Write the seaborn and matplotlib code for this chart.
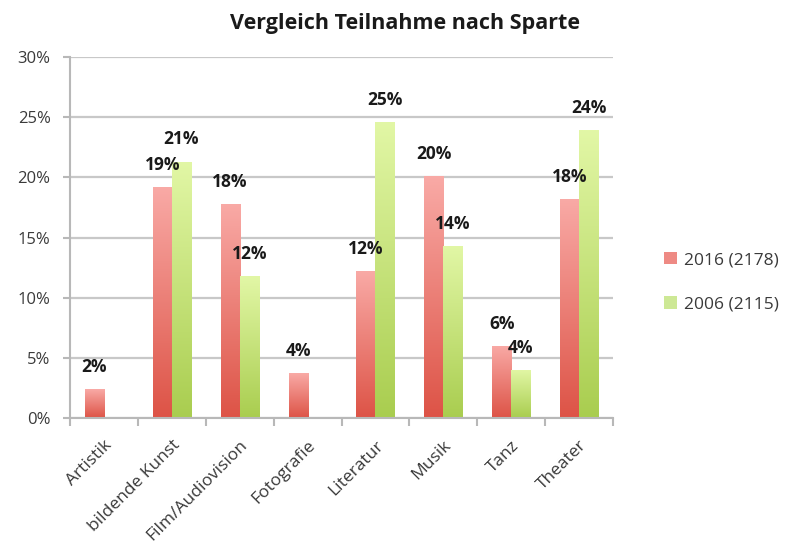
import numpy as np
import pandas as pd
import matplotlib
matplotlib.use("Agg")
import matplotlib.pyplot as plt
import seaborn as sns
from matplotlib.colors import LinearSegmentedColormap
from matplotlib.patches import Patch

categories = ["Artistik", "bildende Kunst", "Film/Audiovision", "Fotografie",
              "Literatur", "Musik", "Tanz", "Theater"]
series = ["2016 (2178)", "2006 (2115)"]
values_2016 = [2.4, 19.2, 17.8, 3.7, 12.2, 20.1, 6.0, 18.2]
values_2006 = [0.0, 21.3, 11.8, 0.0, 24.6, 14.3, 4.0, 23.9]
labels_2016 = ["2%", "19%", "18%", "4%", "12%", "20%", "6%", "18%"]
labels_2006 = ["", "21%", "12%", "", "25%", "14%", "4%", "24%"]
y_ticks = [0, 5, 10, 15, 20, 25, 30]
y_ticklabels = ["0%", "5%", "10%", "15%", "20%", "25%", "30%"]

df = pd.DataFrame({
    "Sparte": categories * 2,
    "Jahr": [series[0]] * len(categories) + [series[1]] * len(categories),
    "Wert": values_2016 + values_2006,
})

sns.set_theme(style="white")
plt.rcParams["font.family"] = ["Open Sans", "DejaVu Sans"]

fig = plt.figure(figsize=(7.86, 5.59), dpi=100)
ax = fig.add_axes([70 / 786, 1 - 418 / 559, (613 - 70) / 786, (418 - 57) / 559])

palette = {series[0]: "#e8716a", series[1]: "#c6e27e"}
sns.barplot(data=df, x="Sparte", y="Wert", hue="Jahr", order=categories,
            hue_order=series, palette=palette, width=0.56, ax=ax,
            legend=False, saturation=1, edgecolor="none")

cmaps = {
    series[0]: LinearSegmentedColormap.from_list("r", ["#dd5346", "#f9aaa6"]),
    series[1]: LinearSegmentedColormap.from_list("g", ["#a9cd4f", "#e2f7a6"]),
}
grad = np.linspace(0, 1, 256).reshape(-1, 1)
for cont, s in zip(ax.containers, series):
    for bar in cont:
        h = bar.get_height()
        if h <= 0:
            continue
        x0 = bar.get_x()
        w = bar.get_width()
        im = ax.imshow(grad, cmap=cmaps[s], aspect="auto", origin="lower",
                       extent=[x0, x0 + w, 0, h], zorder=bar.get_zorder() + 0.1)
        im.set_clip_path(bar)

for cont, labs in zip(ax.containers, [labels_2016, labels_2006]):
    for bar, lab in zip(cont, labs):
        if not lab:
            continue
        ax.annotate(lab, (bar.get_x() + bar.get_width() / 2, bar.get_height()),
                    xytext=(0, 16), textcoords="offset points", ha="center",
                    va="center", fontsize=12.5, fontweight="bold", color="#1a1a1a",
                    zorder=10)

ax.set_xlim(-0.5, len(categories) - 0.5)
ax.set_ylim(0, 30)
ax.set_yticks(y_ticks)
ax.set_yticklabels(y_ticklabels, fontsize=12, color="#3a3a3a")
ax.yaxis.grid(True, color="#c8c8c8", linewidth=1.6)
ax.set_axisbelow(True)
ax.set_xlabel("")
ax.set_ylabel("")

ax.set_xticks(np.arange(len(categories)))
ax.set_xticklabels(categories, rotation=45, ha="right", rotation_mode="anchor",
                   fontsize=12.5, color="#3a3a3a")
ax.tick_params(axis="x", which="major", length=0, pad=14)
ax.set_xticks(np.arange(-0.5, len(categories), 1), minor=True)
ax.tick_params(axis="x", which="minor", length=6, width=1.5, color="#b8b8b8",
               direction="out", bottom=True)
ax.tick_params(axis="y", length=5, width=1.5, color="#b8b8b8", left=True,
               direction="out", pad=9)

for side in ["top", "right"]:
    ax.spines[side].set_visible(False)
for side in ["left", "bottom"]:
    ax.spines[side].set_color("#b8b8b8")
    ax.spines[side].set_linewidth(1.5)

fig.text(405 / 786, 1 - 24 / 559, "Vergleich Teilnahme nach Sparte",
         ha="center", va="center", fontsize=15.5, fontweight="bold",
         color="#1a1a1a")

handles = [Patch(facecolor="#ee8a84", edgecolor="none"),
           Patch(facecolor="#cde895", edgecolor="none")]
fig.legend(handles, series, loc="center left",
           bbox_to_anchor=(648 / 786, 1 - 282 / 559), frameon=False,
           fontsize=12.5, labelspacing=1.6, handlelength=0.75, handleheight=0.75,
           handletextpad=0.4, labelcolor="#3a3a3a")

fig.savefig("out.png", dpi=100)
